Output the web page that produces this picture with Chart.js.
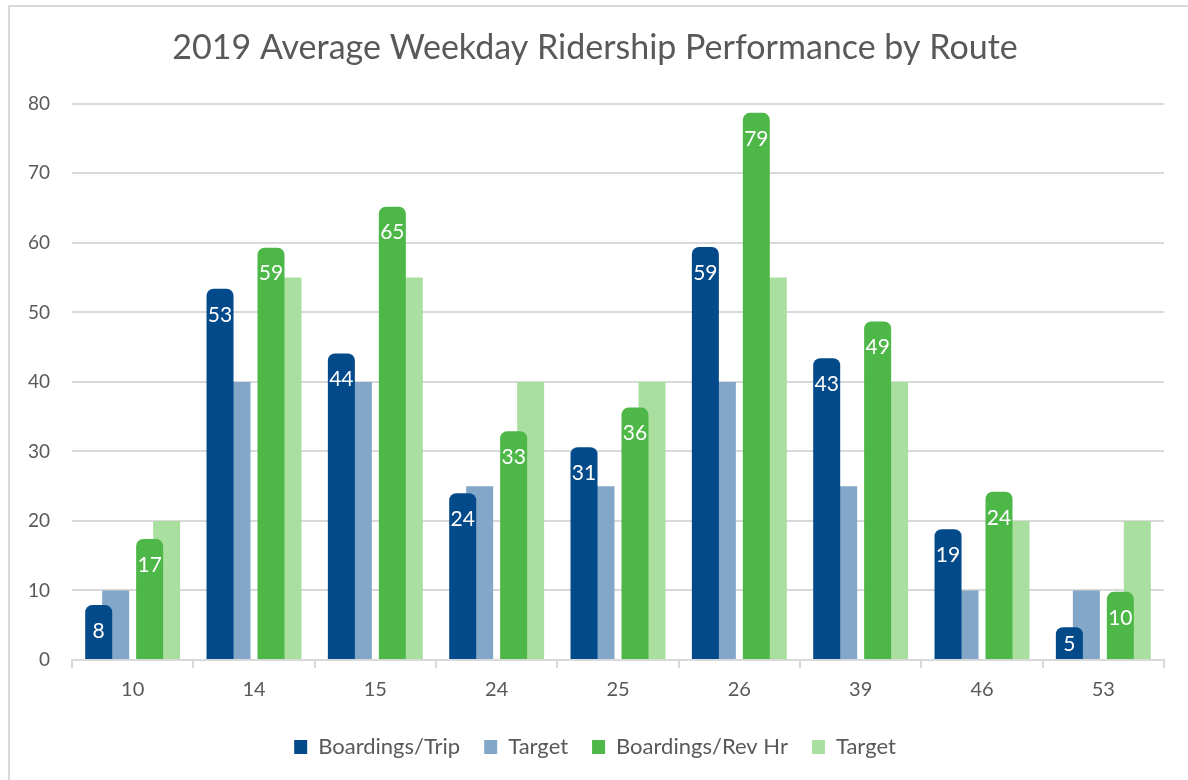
<!DOCTYPE html>
<html>
<head>
<meta charset="utf-8">
<script src="https://cdn.jsdelivr.net/npm/chart.js@4.4.1/dist/chart.umd.min.js"></script>
<style>
  html, body { margin: 0; padding: 0; background: #fff; overflow: hidden; }
  #wrap { position: relative; width: 1188px; height: 780px; }
  #frame { position: absolute; left: 8px; top: 5px; width: 1300px; height: 900px; border-left: 2px solid #d9d9d9; border-top: 2px solid #d9d9d9; pointer-events: none; }
  canvas { position: absolute; left: 0; top: 0; }
</style>
</head>
<body>
<div id="wrap">
  <canvas id="chart" width="1188" height="780"></canvas>
  <div id="frame"></div>
</div>
<script>
const routes = ['10', '14', '15', '24', '25', '26', '39', '46', '53']
const boardingsPerTrip = [7.9, 53.4, 44.1, 24.0, 30.6, 59.4, 43.4, 18.8, 4.7]
const tripTarget = [10, 40, 40, 25, 25, 40, 25, 10, 10]
const boardingsPerRevHr = [17.4, 59.3, 65.2, 32.9, 36.3, 78.7, 48.7, 24.2, 9.8]
const revHrTarget = [20, 55, 55, 40, 40, 55, 40, 20, 20]
const yTicks = [0, 10, 20, 30, 40, 50, 60, 70, 80]

const textColor = '#595959'
const gridColor = '#d9d9d9'
const fontFamily = 'Lato, "Open Sans", sans-serif'

// white value labels inside the top of the actual bars,
// kept inside the bar when the bar is short
const barLabels = {
  id: 'barLabels',
  afterDatasetsDraw(chart) {
    const ctx = chart.ctx
    ctx.save()
    ctx.fillStyle = '#ffffff'
    ctx.font = '21px ' + fontFamily
    ctx.textAlign = 'center'
    ctx.textBaseline = 'middle'
    chart.data.datasets.forEach((ds, i) => {
      if (!ds.showValues) return
      const meta = chart.getDatasetMeta(i)
      meta.data.forEach((bar, j) => {
        const v = ds.data[j]
        if (v == null) return
        const y = Math.min(bar.y + 26, bar.base - 15)
        ctx.fillText(String(Math.round(v)), bar.x, y)
      })
    })
    ctx.restore()
  }
}

const ctx = document.getElementById('chart').getContext('2d')

new Chart(ctx, {
  type: 'bar',
  data: {
    labels: routes,
    datasets: [
      {
        label: 'Boardings/Trip',
        data: boardingsPerTrip,
        backgroundColor: '#034a8b',
        borderRadius: 7,
        borderSkipped: 'start',
        showValues: true
      },
      {
        label: 'Target',
        data: tripTarget,
        backgroundColor: '#82a7c9'
      },
      {
        label: '',
        data: routes.map(() => null),
        backgroundColor: 'rgba(0,0,0,0)'
      },
      {
        label: 'Boardings/Rev Hr',
        data: boardingsPerRevHr,
        backgroundColor: '#4db847',
        borderRadius: 7,
        borderSkipped: 'start',
        showValues: true
      },
      {
        label: 'Target',
        data: revHrTarget,
        backgroundColor: '#a9e0a0'
      }
    ]
  },
  options: {
    responsive: false,
    animation: false,
    barPercentage: 1.59,
    categoryPercentage: 0.70,
    layout: {
      padding: { top: 28, right: 24, bottom: 12, left: 26 }
    },
    plugins: {
      title: {
        display: true,
        text: '2019 Average Weekday Ridership Performance by Route',
        color: textColor,
        font: { family: fontFamily, size: 34, weight: 'normal' },
        padding: { top: 0, bottom: 35 }
      },
      legend: {
        position: 'bottom',
        labels: {
          color: textColor,
          font: { family: fontFamily, size: 22 },
          boxWidth: 13,
          boxHeight: 14,
          padding: 24,
          filter: item => item.text !== ''
        }
      },
      tooltip: { enabled: false }
    },
    scales: {
      x: {
        grid: {
          display: true,
          drawOnChartArea: false,
          color: gridColor,
          lineWidth: 2,
          tickLength: 8
        },
        border: { display: true, color: gridColor, width: 2 },
        ticks: {
          color: textColor,
          font: { family: fontFamily, size: 20 },
          padding: 10
        }
      },
      y: {
        min: 0,
        max: 80,
        afterBuildTicks: scale => {
          scale.ticks = yTicks.map(v => ({ value: v }))
        },
        afterFit: scale => {
          scale.width = 46
        },
        grid: {
          color: gridColor,
          lineWidth: 2,
          drawTicks: false
        },
        border: { display: false },
        ticks: {
          color: textColor,
          font: { family: fontFamily, size: 19 },
          padding: 22
        }
      }
    }
  },
  plugins: [barLabels]
})
</script>
</body>
</html>
